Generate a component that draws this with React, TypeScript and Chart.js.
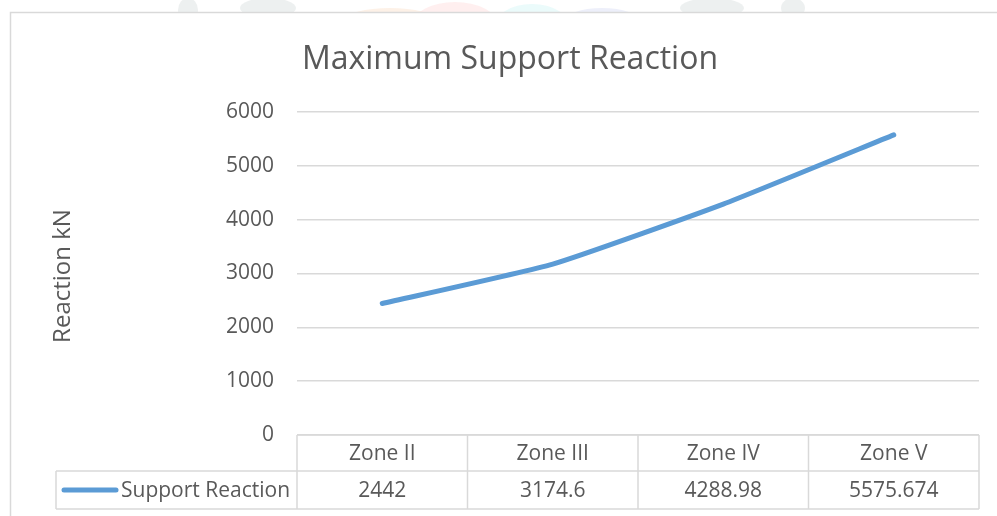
import React, { useEffect, useRef } from "react";
import { Chart, registerables } from "chart.js";

Chart.register(...registerables);

const chartTitle = "Maximum Support Reaction";
const yAxisTitle = "Reaction kN";
const seriesName = "Support Reaction";
const categories = ["Zone II", "Zone III", "Zone IV", "Zone V"];
const reactionValues = [2442, 3174.6, 4288.98, 5575.674];
const yMin = 0;
const yMax = 6000;
const yStep = 1000;

const TEXT = "#595959";
const GRID = "#d9d9d9";
const LINE = "#5b9bd5";
const FONT = '"Open Sans", "DejaVu Sans", sans-serif';

const decorPlugin = {
  id: "decor",
  beforeDraw(chart: any) {
    const ctx = chart.ctx;
    ctx.save();
    ctx.fillStyle = "#ffffff";
    ctx.fillRect(0, 0, chart.width, chart.height);
    // faint watermark remnants above the chart frame
    ctx.beginPath();
    ctx.rect(0, 0, chart.width, 12);
    ctx.clip();
    const blobs: [number, number, number, number, string][] = [
      [188, 10, 10, 12, "rgba(190,200,200,0.28)"],
      [268, 8, 28, 10, "rgba(190,200,200,0.28)"],
      [390, 20, 45, 12, "rgba(250,215,185,0.35)"],
      [455, 24, 42, 22, "rgba(255,215,215,0.4)"],
      [532, 28, 38, 24, "rgba(215,248,248,0.5)"],
      [602, 22, 38, 14, "rgba(215,220,245,0.45)"],
      [712, 8, 32, 10, "rgba(190,200,200,0.28)"],
      [793, 8, 12, 10, "rgba(190,200,200,0.28)"],
    ];
    for (const [x, y, rx, ry, c] of blobs) {
      ctx.fillStyle = c;
      ctx.beginPath();
      ctx.ellipse(x, y, rx, ry, 0, 0, Math.PI * 2);
      ctx.fill();
    }
    ctx.restore();

    ctx.save();
    ctx.strokeStyle = GRID;
    ctx.lineWidth = 1.5;
    ctx.strokeRect(10.5, 12.5, chart.width + 20, chart.height + 20);
    ctx.restore();
  },
  afterDraw(chart: any) {
    const ctx = chart.ctx;
    const area = chart.chartArea;
    const xs = chart.scales.x;
    ctx.save();

    // Title
    ctx.fillStyle = TEXT;
    ctx.font = `32px ${FONT}`;
    ctx.textAlign = "center";
    ctx.textBaseline = "alphabetic";
    ctx.fillText(chartTitle, 510, 69);

    // Y axis title
    ctx.save();
    ctx.translate(63, 276);
    ctx.rotate(-Math.PI / 2);
    ctx.font = `24px ${FONT}`;
    ctx.textAlign = "center";
    ctx.textBaseline = "middle";
    ctx.fillText(yAxisTitle, 0, 0);
    ctx.restore();

    // Data table
    const n = categories.length;
    const colW = (area.right - area.left) / n;
    const top = area.bottom;
    const mid = top + 36;
    const bot = top + 74;
    const legendLeft = 56;
    ctx.strokeStyle = GRID;
    ctx.lineWidth = 1.5;
    ctx.beginPath();
    ctx.moveTo(area.left, top);
    ctx.lineTo(area.right, top);
    ctx.moveTo(legendLeft, mid);
    ctx.lineTo(area.right, mid);
    ctx.moveTo(legendLeft, bot);
    ctx.lineTo(area.right, bot);
    ctx.moveTo(legendLeft, mid);
    ctx.lineTo(legendLeft, bot);
    for (let i = 0; i <= n; i++) {
      const x = i < n ? xs.getPixelForValue(i) - colW / 2 : xs.getPixelForValue(n - 1) + colW / 2;
      ctx.moveTo(x, top);
      ctx.lineTo(x, bot);
    }
    ctx.stroke();

    ctx.fillStyle = TEXT;
    ctx.font = `21px ${FONT}`;
    ctx.textAlign = "center";
    ctx.textBaseline = "middle";
    for (let i = 0; i < n; i++) {
      const cx = xs.getPixelForValue(i);
      ctx.fillText(categories[i], cx, (top + mid) / 2 + 1);
      ctx.fillText(String(reactionValues[i]), cx, (mid + bot) / 2 + 1);
    }

    // legend key
    ctx.strokeStyle = LINE;
    ctx.lineWidth = 5;
    ctx.lineCap = "round";
    ctx.beginPath();
    ctx.moveTo(64, (mid + bot) / 2);
    ctx.lineTo(116, (mid + bot) / 2);
    ctx.stroke();
    ctx.fillStyle = TEXT;
    ctx.textAlign = "left";
    ctx.fillText(seriesName, 121, (mid + bot) / 2 + 1);

    ctx.restore();
  },
};

export default function App() {
  const ref = useRef<HTMLCanvasElement | null>(null);

  useEffect(() => {
    if (!ref.current) return;
    const chart = new Chart(ref.current, {
      type: "line",
      data: {
        labels: categories,
        datasets: [
          {
            label: seriesName,
            data: reactionValues,
            borderColor: LINE,
            backgroundColor: LINE,
            borderWidth: 5,
            borderCapStyle: "round",
            borderJoinStyle: "round",
            pointRadius: 0,
            tension: 0.15,
            fill: false,
          },
        ],
      },
      options: {
        responsive: false,
        animation: false,
        layout: { padding: { top: 112, bottom: 81, left: 0, right: 18 } },
        plugins: {
          legend: { display: false },
          title: { display: false },
          tooltip: { enabled: false },
        },
        scales: {
          x: {
            type: "category",
            display: false,
            offset: true,
          },
          y: {
            min: yMin,
            max: yMax,
            afterFit: (scale: any) => {
              scale.width = 297;
            },
            border: { display: false },
            grid: { color: GRID, lineWidth: 1.5, drawTicks: false },
            ticks: {
              stepSize: yStep,
              padding: 23,
              color: TEXT,
              font: { family: FONT, size: 21 },
              callback: (v: any) => String(v),
            },
          },
        },
      },
      plugins: [decorPlugin],
    });
    return () => chart.destroy();
  }, []);

  return (
    <div style={{ position: "fixed", left: 0, top: 0, width: 997, height: 516 }}>
      <canvas ref={ref} width={997} height={516} style={{ width: 997, height: 516, display: "block" }} />
    </div>
  );
}
